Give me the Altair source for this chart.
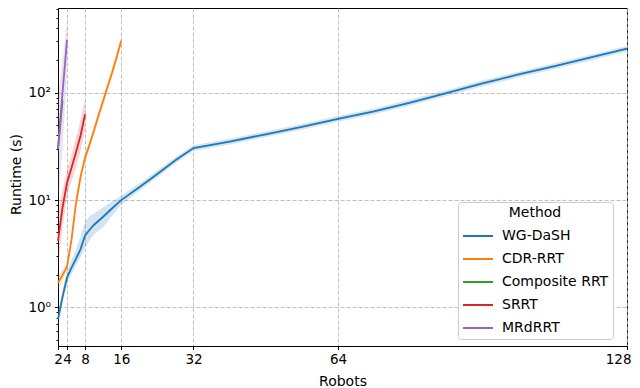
import altair as alt
import pandas as pd

methods = ["WG-DaSH", "CDR-RRT", "Composite RRT", "SRRT", "MRdRRT"]
colors = ["#1f77b4", "#ff7f0e", "#2ca02c", "#d62728", "#9467bd"]

# WG-DaSH
wg_x = [2, 3, 4, 5, 6, 7, 8, 9, 10, 12, 14, 16, 20, 24, 28, 32, 40, 48, 56, 64, 72, 80, 88, 96, 104, 112, 120, 128]
wg_mean = [0.78, 1.25, 1.9, 2.35, 2.85, 3.5, 4.7, 5.3, 5.9, 7.0, 8.4, 10.0, 13.2, 17.5, 23.5, 30.5, 35, 41, 48, 57, 67, 81, 99, 122, 148, 177, 213, 257]
wg_lo = [0.66, 1.1, 1.7, 2.05, 2.45, 2.95, 3.6, 4.2, 4.8, 5.6, 7.2, 9.0, 12.2, 16.3, 22.0, 28.6, 33.0, 38.6, 45.2, 53.6, 63.0, 76.0, 93.0, 114, 139, 166, 200, 242]
wg_hi = [0.92, 1.45, 2.2, 2.75, 3.5, 4.6, 6.3, 7.1, 7.5, 8.6, 9.7, 11.0, 14.3, 18.9, 25.1, 32.5, 37.2, 43.6, 51.0, 60.6, 71.2, 86.3, 105.3, 130, 157, 188, 226, 272]

# CDR-RRT
cdr_x = [2, 3, 4, 5, 6, 7, 8, 9, 10, 11, 12, 13, 14, 15, 16]
cdr_mean = [1.7, 2.0, 2.4, 4.3, 9.5, 16.5, 25, 33, 45, 62, 84, 115, 155, 215, 305]
cdr_lo = [1.45, 1.8, 2.2, 3.8, 8.5, 14.8, 22.5, 30, 41, 56, 76, 104, 140, 195, 275]
cdr_hi = [1.95, 2.25, 2.65, 4.9, 10.5, 18.0, 27.5, 36, 49, 68, 92, 126, 170, 235, 340]

# Composite RRT
comp_x = [2, 3]
comp_mean = [30, 85]
comp_lo = [25, 70]
comp_hi = [36, 100]

# SRRT
srrt_x = [2, 3, 4, 5, 6, 7, 8]
srrt_mean = [4.2, 8.5, 14.5, 20, 28, 40, 63]
srrt_lo = [2.4, 5.5, 11, 15, 20, 29, 45]
srrt_hi = [7.5, 12.5, 19, 27, 38, 56, 88]

# MRdRRT
mrd_x = [2, 3, 4]
mrd_mean = [30, 100, 310]
mrd_lo = [9, 30, 160]
mrd_hi = [90, 200, 470]

x_ticks = [2, 4, 8, 16, 32, 64, 128]
y_major = [1, 10, 100]
y_minor = [0.5, 0.6, 0.7, 0.8, 0.9, 2, 3, 4, 5, 6, 7, 8, 9,
           20, 30, 40, 50, 60, 70, 80, 90, 200, 300, 400, 500, 600]

series = [
    ("WG-DaSH", wg_x, wg_mean, wg_lo, wg_hi),
    ("CDR-RRT", cdr_x, cdr_mean, cdr_lo, cdr_hi),
    ("Composite RRT", comp_x, comp_mean, comp_lo, comp_hi),
    ("SRRT", srrt_x, srrt_mean, srrt_lo, srrt_hi),
    ("MRdRRT", mrd_x, mrd_mean, mrd_lo, mrd_hi),
]

rows = []
for m, xs, mean, lo, hi in series:
    for x, v, l, h in zip(xs, mean, lo, hi):
        rows.append({"Method": m, "Robots": x, "Runtime": v, "lo": l, "hi": h})
df = pd.DataFrame(rows)

FONT = "DejaVu Sans"

xscale = alt.Scale(domain=[2, 128], nice=False, zero=False)
yscale = alt.Scale(type="log", domain=[0.438, 615], nice=False)

x_axis = alt.Axis(
    values=x_ticks, title="Robots", grid=True, gridDash=[4, 2], gridColor="#b0b0b0",
    gridWidth=0.8, tickSize=3.5, tickColor="black", domainColor="black",
    labelFontSize=13.5, labelColor="black", labelFont=FONT, labelOverlap=False,
    labelFlush=False, labelPadding=3,
    labelAlign={"condition": {"test": "datum.value == 128", "value": "right"}, "value": "center"},
    labelOffset={"condition": {"test": "datum.value == 128", "value": 4}, "value": 0},
    titleFontSize=14, titleFont=FONT,
    titleFontWeight="normal", titleColor="black", titleBaseline="middle", titleY=35,
)
y_axis = alt.Axis(
    values=y_minor + y_major, title="Runtime (s)",
    labelExpr="datum.value == 1 ? '10⁰' : datum.value == 10 ? '10¹' : datum.value == 100 ? '10²' : ''",
    grid=True, gridDash=[4, 2], gridColor="#b0b0b0", gridWidth=0.8,
    gridOpacity={"condition": {"test": "datum.value == 1 || datum.value == 10 || datum.value == 100", "value": 1}, "value": 0},
    tickSize={"condition": {"test": "datum.value == 1 || datum.value == 10 || datum.value == 100", "value": 3.5}, "value": 2},
    tickColor="black", domainColor="black", labelFontSize=13.5, labelColor="black",
    labelFont=FONT, labelOverlap=False, labelPadding=4, titleFontSize=14, titleFont=FONT,
    titleFontWeight="normal", titleColor="black", titleX=-42, titleY=166, titleBaseline="middle",
)

legend = alt.Legend(
    title="Method", orient="none", legendX=400, legendY=194,
    symbolType="stroke", symbolSize=900, symbolStrokeWidth=2,
    labelFontSize=14, labelFont=FONT, labelColor="black",
    titleFontSize=14, titleFont=FONT, titleFontWeight="normal", titleColor="black",
    titleAnchor="middle", padding=4, strokeColor="#cccccc", fillColor="white",
    cornerRadius=3, rowPadding=-2, labelOffset=8, titlePadding=0,
)
color = alt.Color("Method:N", scale=alt.Scale(domain=methods, range=colors), legend=legend)

layers = []
for (m, *_), c in zip(series, colors):
    base = alt.Chart(df).transform_filter(alt.datum.Method == m)
    band = base.mark_area(opacity=0.2, color=c).encode(
        x=alt.X("Robots:Q", scale=xscale, axis=x_axis),
        y=alt.Y("lo:Q", scale=yscale, axis=y_axis),
        y2="hi:Q",
    )
    line = base.mark_line(strokeWidth=1.8).encode(
        x=alt.X("Robots:Q", scale=xscale, axis=x_axis),
        y=alt.Y("Runtime:Q", scale=yscale, axis=y_axis),
        color=color,
    )
    layers += [band, line]

chart = alt.layer(*layers).properties(
    width=569, height=338,
    autosize=alt.AutoSizeParams(type="none"),
    padding={"left": 50, "top": 0, "right": 5, "bottom": 42},
).configure_view(stroke="black", strokeWidth=1)

chart.save("out.html", embed_options={"renderer": "svg", "actions": False})
